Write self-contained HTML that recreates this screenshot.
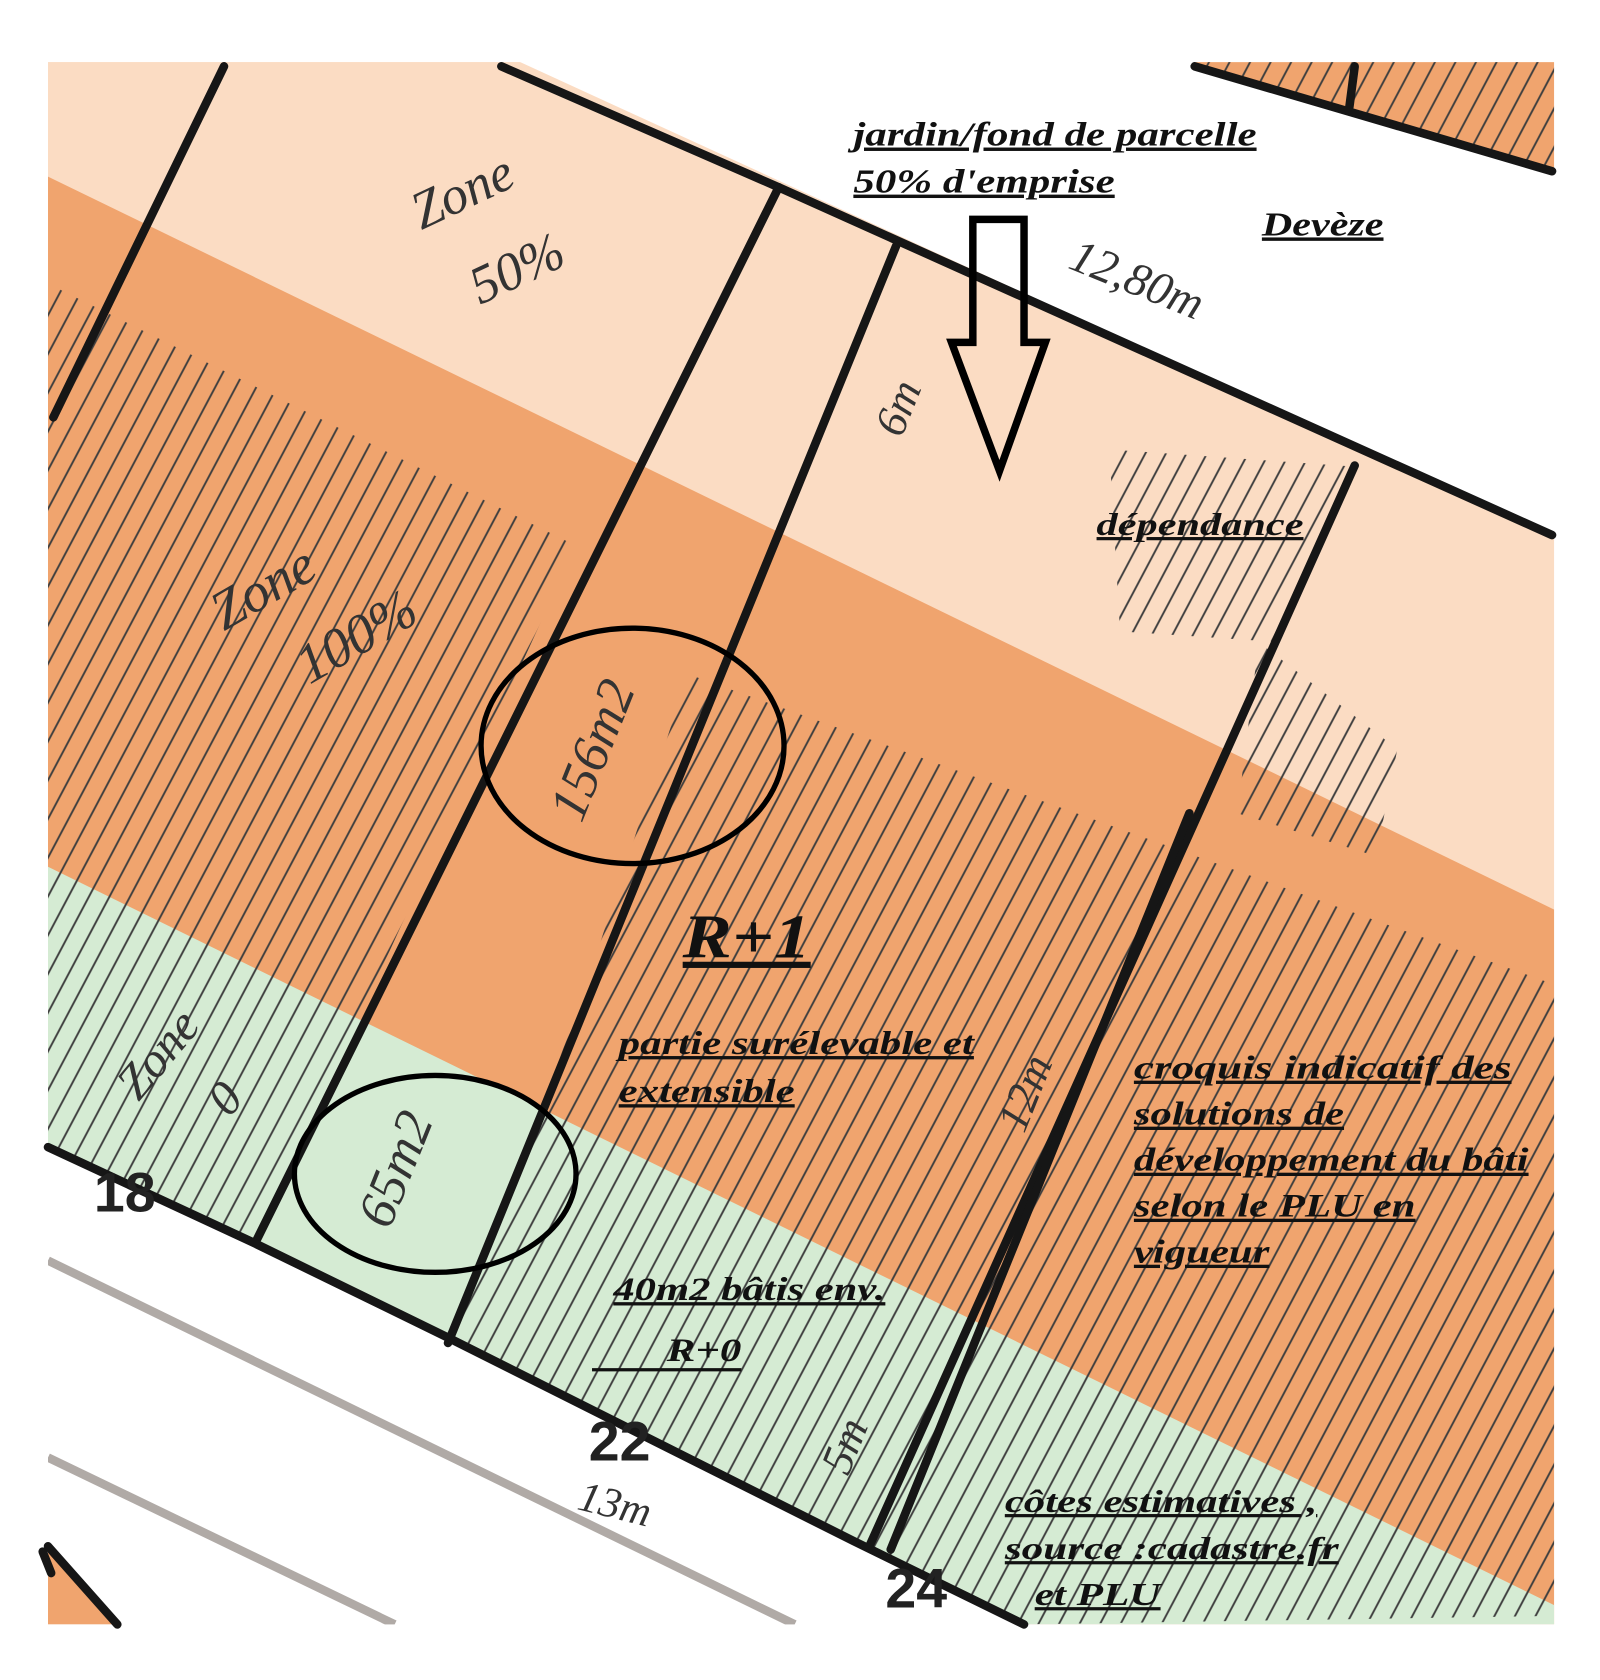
<!DOCTYPE html>
<html><head><meta charset="utf-8"><style>
html,body{margin:0;padding:0;background:#fff;width:1600px;height:1680px;overflow:hidden}
svg{display:block}
.lb{font-family:"Liberation Serif",serif;font-weight:bold;font-style:italic;fill:#111;text-decoration:underline}
.hw{font-family:"Liberation Serif",serif;font-style:italic;fill:#333}
.num{font-family:"Liberation Sans",sans-serif;font-weight:bold;fill:#222}
</style></head><body>
<svg width="1600" height="1680" viewBox="0 0 1600 1680" xmlns="http://www.w3.org/2000/svg">
<defs>
<pattern id="h" width="17" height="17" patternUnits="userSpaceOnUse" patternTransform="rotate(28)">
<line x1="8" y1="0" x2="8" y2="17" stroke="#3e3e3e" stroke-width="1.8" stroke-dasharray="40 4"/>
</pattern>
</defs>
<g transform="scale(1.0667,1.0701)">
<rect x="45" y="58" width="1412" height="1460" fill="#fbdcc3"/>
<polygon points="45,165 1457,850 1457,1518 45,1518" fill="#f0a46e"/>
<polygon points="45,810 1457,1500 1457,1518 45,1518" fill="#d5ebd3"/>
<polygon points="45,265 540,510 240,1160 45,1072" fill="url(#h)"/>
<polygon points="645,630 1457,920 1457,1510 960,1518 420,1250 540,950" fill="url(#h)"/>
<polygon points="1040,420 1270,436 1200,600 1050,590" fill="url(#h)"/>
<polygon points="1180,600 1310,700 1290,800 1160,760" fill="url(#h)"/>
<polygon points="470,50 1470,50 1470,500 1455,500" fill="#fff"/>
<polygon points="1120,58 1457,58 1457,160" fill="#f0a46e"/>
<polygon points="1120,58 1457,58 1457,160" fill="url(#h)"/>
<polygon points="45,1072 235,1160 420,1250 800,1440 960,1518 1470,1518 1470,1580 30,1580 30,1072" fill="#fff"/>
<polygon points="45,1445 110,1518 45,1518" fill="#f0a46e"/>
<line x1="45" y1="1178" x2="745" y2="1518" stroke="#b0aaa6" stroke-width="8"/>
<line x1="45" y1="1362" x2="370" y2="1518" stroke="#b0aaa6" stroke-width="8"/>
<rect x="0" y="1518" width="1500" height="70" fill="#fff"/>
<rect x="1457" y="0" width="60" height="1600" fill="#fff"/>
<rect x="0" y="0" width="45" height="1600" fill="#fff"/>
<g stroke="#161616" stroke-width="8" fill="none" stroke-linecap="round">
<polyline points="470,62 730,175 1455,500"/>
<polyline points="1120,62 1455,160"/>
<line x1="1270" y1="62" x2="1265" y2="100"/>
<line x1="210" y1="62" x2="50" y2="390"/>
<line x1="730" y1="175" x2="240" y2="1160"/>
<line x1="840" y1="230" x2="420" y2="1255"/>
<line x1="1270" y1="435" x2="815" y2="1445"/>
<line x1="1115" y1="760" x2="835" y2="1448"/>
<polyline points="45,1072 235,1160 420,1250 800,1440 960,1518"/>
<line x1="45" y1="1445" x2="110" y2="1518"/>
<line x1="40" y1="1450" x2="48" y2="1470"/>
</g>
<polygon points="912,205 960,205 960,320 980,320 937,440 892,320 912,320" fill="none" stroke="#000" stroke-width="7"/>
<ellipse cx="593" cy="697" rx="142" ry="110" fill="none" stroke="#000" stroke-width="5"/>
<ellipse cx="408" cy="1097" rx="132" ry="92" fill="none" stroke="#000" stroke-width="5"/>
<text class="lb" x="800" y="136" font-size="32" textLength="378" lengthAdjust="spacingAndGlyphs">jardin/fond de parcelle</text>
<text class="lb" x="800" y="180" font-size="32" textLength="245" lengthAdjust="spacingAndGlyphs">50% d'emprise</text>
<text class="lb" x="1183" y="220" font-size="32" textLength="114" lengthAdjust="spacingAndGlyphs">Devèze</text>
<text class="lb" x="1028" y="500" font-size="30" textLength="194" lengthAdjust="spacingAndGlyphs">dépendance</text>
<text class="lb" x="640" y="895" font-size="58" textLength="120" lengthAdjust="spacingAndGlyphs">R+1</text>
<text class="lb" x="580" y="985" font-size="31" textLength="333" lengthAdjust="spacingAndGlyphs">partie surélevable et</text>
<text class="lb" x="580" y="1030" font-size="31" textLength="165" lengthAdjust="spacingAndGlyphs">extensible</text>
<text class="lb" x="1063" y="1008" font-size="31" textLength="354" lengthAdjust="spacingAndGlyphs">croquis indicatif   des</text>
<text class="lb" x="1063" y="1051" font-size="31" textLength="197" lengthAdjust="spacingAndGlyphs">solutions de</text>
<text class="lb" x="1063" y="1094" font-size="31" textLength="370" lengthAdjust="spacingAndGlyphs">développement du bâti</text>
<text class="lb" x="1063" y="1137" font-size="31" textLength="264" lengthAdjust="spacingAndGlyphs">selon le PLU en</text>
<text class="lb" x="1063" y="1180" font-size="31" textLength="127" lengthAdjust="spacingAndGlyphs">vigueur</text>
<text class="lb" x="575" y="1215" font-size="31" textLength="255" lengthAdjust="spacingAndGlyphs">40m2 bâtis env.</text>
<text class="lb" x="625" y="1272" font-size="31" style="text-decoration:none" textLength="70" lengthAdjust="spacingAndGlyphs">R+0</text>
<line x1="555" y1="1280" x2="695" y2="1280" stroke="#111" stroke-width="3"/>
<text class="lb" x="942" y="1413" font-size="30" textLength="293" lengthAdjust="spacingAndGlyphs">côtes estimatives ,</text>
<text class="lb" x="942" y="1457" font-size="30" textLength="313" lengthAdjust="spacingAndGlyphs">source :cadastre.fr</text>
<text class="lb" x="970" y="1500" font-size="30" textLength="118" lengthAdjust="spacingAndGlyphs">et PLU</text>
<text class="num" x="88" y="1132" font-size="52">18</text>
<text class="num" x="552" y="1365" font-size="52">22</text>
<text class="num" x="830" y="1502" font-size="52">24</text>
<text class="hw" font-size="50" transform="translate(395,215) rotate(-25)">Zone</text>
<text class="hw" font-size="50" transform="translate(450,285) rotate(-25)">50%</text>
<text class="hw" font-size="52" transform="translate(210,590) rotate(-30)">Zone</text>
<text class="hw" font-size="52" transform="translate(290,640) rotate(-30)">100%</text>
<text class="hw" font-size="46" transform="translate(130,1030) rotate(-50)">Zone</text>
<text class="hw" font-size="46" transform="translate(215,1045) rotate(-50)">0</text>
<text class="hw" font-size="50" transform="translate(545,770) rotate(-68)">156m2</text>
<text class="hw" font-size="50" transform="translate(365,1150) rotate(-68)">65m2</text>
<text class="hw" font-size="42" transform="translate(845,410) rotate(-68)">6m</text>
<text class="hw" font-size="44" transform="translate(1000,250) rotate(22)">12,80m</text>
<text class="hw" font-size="42" transform="translate(960,1060) rotate(-68)">12m</text>
<text class="hw" font-size="42" transform="translate(795,1380) rotate(-68)">5m</text>
<text class="hw" font-size="40" transform="translate(540,1410) rotate(14)">13m</text>
</g>
</svg>
</body></html>
